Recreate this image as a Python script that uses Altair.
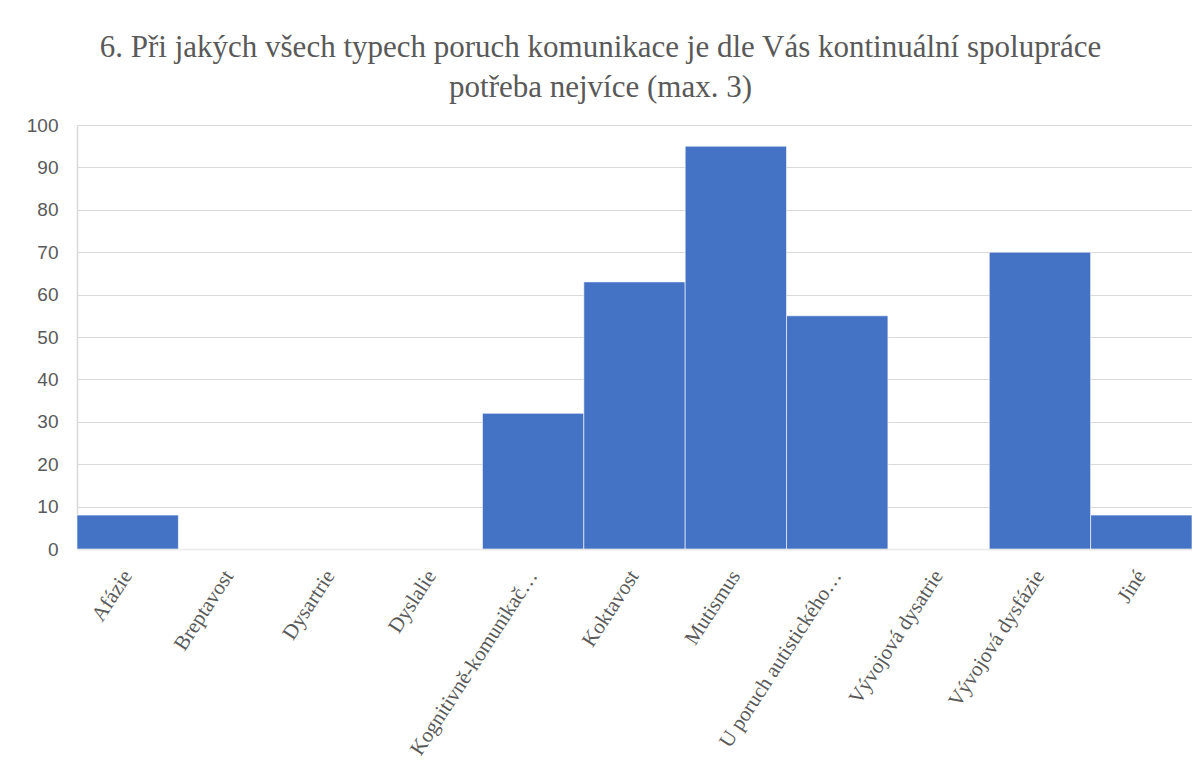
import altair as alt
import pandas as pd

categories = ["Afázie", "Breptavost", "Dysartrie", "Dyslalie", "Kognitivně-komunikač…",
              "Koktavost", "Mutismus", "U poruch autistického…", "Vývojová dysatrie",
              "Vývojová dysfázie", "Jiné"]
values = [8, 0, 0, 0, 32, 63, 95, 55, 0, 70, 8]

df = pd.DataFrame({"kategorie": categories, "hodnota": values})

chart = alt.Chart(df).mark_bar(color="#4472C4", stroke="#ffffff", strokeWidth=0.6).encode(
    x=alt.X("kategorie:N", sort=categories, title=None,
            scale=alt.Scale(paddingInner=0, paddingOuter=0),
            axis=alt.Axis(labelAngle=-57, labelAlign="right", labelBaseline="middle",
                          labelFont="Liberation Serif", labelFontSize=21, labelColor="#595959",
                          labelLimit=400, labelPadding=23, ticks=False,
                          domainColor="#d9d9d9", domainWidth=1.5)),
    y=alt.Y("hodnota:Q", title=None,
            scale=alt.Scale(domain=[0, 100], nice=False),
            axis=alt.Axis(values=list(range(0, 101, 10)), labelFont="Liberation Sans",
                          labelFontSize=19, labelColor="#595959", labelPadding=19,
                          ticks=False, grid=True, gridColor="#d9d9d9", gridWidth=1.2,
                          domain=True, domainColor="#d9d9d9", domainWidth=1.5)),
).properties(
    width=1115, height=424,
    title=alt.TitleParams(
        text=["6. Při jakých všech typech poruch komunikace je dle Vás kontinuální spolupráce",
              "potřeba nejvíce (max. 3)"],
        font="Liberation Serif, Times New Roman, serif", fontSize=31, fontWeight="normal",
        color="#595959", anchor="middle", dx=-34, offset=12, lineHeight=40),
    padding={"left": 69, "top": 117, "right": 0, "bottom": 210},
    autosize=alt.AutoSizeParams(type="none"),
).configure_view(stroke=None).configure_title(font="Liberation Serif, Times New Roman, serif",
                                              fontWeight="normal")

chart.save("out.html", embed_options={"renderer": "svg", "actions": False})
